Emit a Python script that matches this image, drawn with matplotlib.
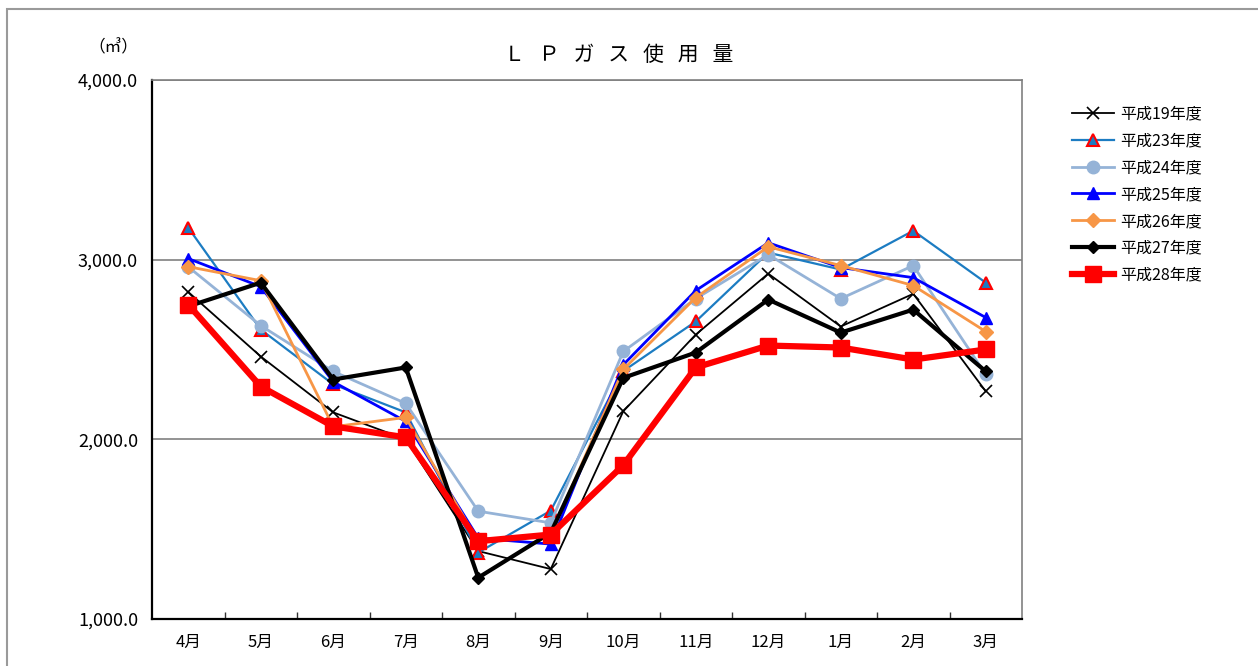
import matplotlib.pyplot as plt
from matplotlib.patches import Rectangle

plt.rcParams['font.family'] = ['Noto Sans CJK JP', 'DejaVu Sans']

months = ['4月', '5月', '6月', '7月', '8月', '9月', '10月', '11月', '12月', '1月', '2月', '3月']

h19 = [2820, 2461, 2150, 2000, 1378, 1278, 2156, 2583, 2922, 2628, 2810, 2267]
h23 = [3178, 2611, 2306, 2150, 1370, 1603, 2380, 2656, 3039, 2945, 3161, 2872]
h24 = [2960, 2633, 2378, 2200, 1600, 1535, 2489, 2783, 3028, 2783, 2967, 2361]
h25 = [3006, 2850, 2320, 2100, 1450, 1417, 2415, 2828, 3094, 2956, 2900, 2678]
h26 = [2961, 2883, 2070, 2122, 1430, 1470, 2389, 2789, 3072, 2967, 2856, 2600]
h27 = [2740, 2872, 2333, 2400, 1230, 1480, 2342, 2483, 2778, 2594, 2722, 2378]
h28 = [2750, 2294, 2072, 2011, 1433, 1470, 1856, 2400, 2522, 2511, 2444, 2500]

labels = ['平成19年度', '平成23年度', '平成24年度', '平成25年度', '平成26年度', '平成27年度', '平成28年度']

fig = plt.figure(figsize=(12.58, 6.66), dpi=100)
ax = fig.add_axes([152 / 1258, 1 - 619 / 666, 870 / 1258, 539 / 666])

# outer chart border (cut off at right/bottom like the reference)
fig.patches.append(Rectangle((7 / 1258, -0.05), 1.1, 1 - 9 / 666 + 0.05,
                             transform=fig.transFigure, fill=False,
                             edgecolor='#9a9a9a', linewidth=1.5))

x = list(range(len(months)))

ax.plot(x, h19, color='black', lw=1.3, marker='x', ms=8, mew=1.2, label=labels[0])
ax.plot(x, h23, color='#1c7cc2', lw=1.6, marker='^', ms=9, mfc='#1c7cc2',
        mec='red', mew=1.5, label=labels[1])
ax.plot(x, h24, color='#95b3d7', lw=2.0, marker='o', ms=9, mfc='#95b3d7',
        mec='#95b3d7', label=labels[2])
ax.plot(x, h25, color='#0000ff', lw=2.0, marker='^', ms=9, mfc='#0000ff',
        mec='#0000ff', label=labels[3])
ax.plot(x, h26, color='#f79646', lw=2.0, marker='D', ms=7, mfc='#f79646',
        mec='#f79646', label=labels[4])
ax.plot(x, h27, color='black', lw=3.0, marker='D', ms=6, label=labels[5])
ax.plot(x, h28, color='#ff0000', lw=4.5, marker='s', ms=12, label=labels[6])

ax.set_xlim(-0.5, len(months) - 0.5)
ax.set_ylim(1000, 4000)
ax.set_yticks([1000, 2000, 3000, 4000])
ax.set_yticklabels(['{:,.1f}'.format(v) for v in [1000, 2000, 3000, 4000]], fontsize=13)
ax.tick_params(axis='y', length=0, pad=10)
ax.yaxis.grid(True, color='#808080', lw=1.2)
ax.set_axisbelow(True)

ax.set_xticks(x)
ax.set_xticklabels(months, fontsize=12)
ax.tick_params(axis='x', which='major', length=0, pad=11)
ax.set_xticks([i + 0.5 for i in x[:-1]], minor=True)
ax.tick_params(axis='x', which='minor', direction='in', length=5, width=1, color='#333333')

for side in ['left', 'bottom']:
    ax.spines[side].set_color('black')
    ax.spines[side].set_linewidth(1.6)
for side in ['top', 'right']:
    ax.spines[side].set_color('#808080')
    ax.spines[side].set_linewidth(1.2)

fig.text(619 / 1258, 1 - 55 / 666, 'Ｌ   Ｐ   ガ   ス   使   用   量', ha='center', va='center', fontsize=15)
fig.text(113 / 1258, 1 - 48 / 666, '（㎥）', ha='center', va='center', fontsize=12)

fig.legend(loc='upper left', bbox_to_anchor=(1058 / 1258, 1 - 91 / 666), frameon=False,
           fontsize=11.5, handlelength=2.6, labelspacing=0.62, handletextpad=0.4)

fig.savefig('out.png', dpi=100)
